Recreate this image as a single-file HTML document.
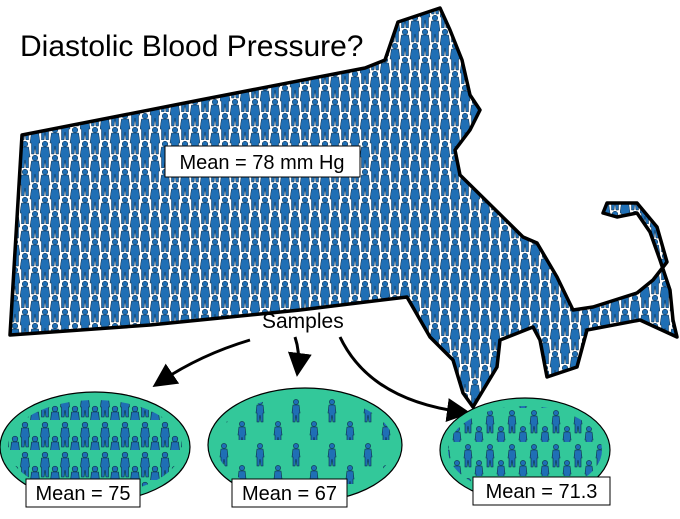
<!DOCTYPE html>
<html><head><meta charset="utf-8"><style>
body{margin:0;background:#fff;}
svg{display:block;font-family:"Liberation Sans",sans-serif;}
</style></head><body>
<svg width="680" height="519" viewBox="0 0 680 519">
<defs>
<pattern id="crowd" width="20" height="28" patternUnits="userSpaceOnUse">
<g fill="#1f6fb5" stroke="#0b2a45" stroke-width="0.5">
<circle cx="5" cy="4" r="2.8"/><path d="M1.5 7h7l1.5 10-1.5 0 0 11h-2.5l-1-8-1 8h-2.5l0-11-1.5 0z"/>
<circle cx="15" cy="18" r="2.8"/><path d="M11.5 21h7l1.5 10-1.5 0 0 11h-2.5l-1-8-1 8h-2.5l0-11-1.5 0z"/>
<circle cx="15" cy="-10" r="2.8"/><path d="M11.5 -7h7l1.5 10-1.5 0 0 11h-2.5l-1-8-1 8h-2.5l0-11-1.5 0z"/>
</g>
</pattern>
<pattern id="sparse" width="22" height="34" patternUnits="userSpaceOnUse">
<g fill="#1f6fb5" stroke="#0b2a45" stroke-width="0.6">
<circle cx="6" cy="5" r="2.6"/><path d="M3 8h6l1 8-1 0 0 9h-2l-1-7-1 7h-2l0-9-1 0z"/>
<circle cx="17" cy="21" r="2.6"/><path d="M14 24h6l1 8-1 0 0 9h-2l-1-7-1 7h-2l0-9-1 0z"/>
</g>
</pattern>
<pattern id="vsparse" width="36" height="44" patternUnits="userSpaceOnUse">
<g fill="#1f6fb5" stroke="#0b2a45" stroke-width="0.6">
<circle cx="8" cy="6" r="2.6"/><path d="M5 9h6l1 8-1 0 0 9h-2l-1-7-1 7h-2l0-9-1 0z"/>
<circle cx="26" cy="28" r="2.6"/><path d="M23 31h6l1 8-1 0 0 9h-2l-1-7-1 7h-2l0-9-1 0z"/>
</g>
</pattern>
<pattern id="medium" width="20" height="30" patternUnits="userSpaceOnUse">
<g fill="#1f6fb5" stroke="#0b2a45" stroke-width="0.6">
<circle cx="5" cy="5" r="2.8"/><path d="M1.5 8h7l1 9-1 0 0 10h-2.5l-1-7-1 7h-2.5l0-10-1 0z"/>
<circle cx="15" cy="19" r="2.8"/><path d="M11.5 22h7l1 9-1 0 0 10h-2.5l-1-7-1 7h-2.5l0-10-1 0z"/>
</g>
</pattern>
<marker id="ah" markerWidth="8" markerHeight="8" refX="5" refY="4" orient="auto"><path d="M0 0L8 4L0 8z" fill="#000"/></marker>
</defs>

<path d="M22 135 L200 100 L365 68 L385 60 L398 22 L440 8 L450 30 L462 60 L470 95 L480 110 L470 130 L455 150 L460 175 L523 237 L537 243 L557 277 L573 310 L593 307 L637 293 L653 280 L667 262 L657 227 L637 203 L607 203 L603 213 L617 217 L637 213 L650 232 L660 260 L670 290 L673 320 L677 337 L640 320 L587 330 L577 367 L547 377 L540 340 L533 327 L500 340 L497 367 L473 407 L463 393 L453 360 L430 337 L407 297 L300 310 L150 325 L10 335 Z" fill="url(#crowd)" stroke="#000" stroke-width="3.5" stroke-linejoin="round"/>

<text x="20" y="56" font-size="30">Diastolic Blood Pressure?</text>

<g>
<rect x="165" y="146" width="195" height="31" fill="#fff" stroke="#000" stroke-width="1"/>
<text x="262" y="169" font-size="20" text-anchor="middle">Mean = 78 mm Hg</text>
</g>

<text x="262" y="328" font-size="21">Samples</text>

<g fill="none" stroke="#000" stroke-width="3">
<path d="M250 340 Q200 355 160 382" marker-end="url(#ah)"/>
<path d="M295 337 Q300 352 298 368" marker-end="url(#ah)"/>
<path d="M340 337 Q370 400 462 412" marker-end="url(#ah)"/>
</g>

<g id="samples"></g>
</svg>
<script>
const sampleNames = ["sample-1","sample-2","sample-3"];
const sampleMeans = ["75","67","71.3"];
const ellipses = [[95,447,95,55,"url(#medium)"],[305,445,97,57,"url(#vsparse)"],[525,450,85,52,"url(#sparse)"]];
const boxes = [[26,479,114],[232,479,115],[473,477,137]];
const g = document.getElementById('samples');
const NS = "http://www.w3.org/2000/svg";
sampleMeans.forEach((m,i)=>{
  const grp = document.createElementNS(NS,'g');
  
  
  const [cx,cy,rx,ry,pat] = ellipses[i];
  const e = document.createElementNS(NS,'ellipse');
  e.setAttribute('cx',cx);e.setAttribute('cy',cy);e.setAttribute('rx',rx);e.setAttribute('ry',ry);
  e.setAttribute('fill','#33c89a');e.setAttribute('stroke','#000');e.setAttribute('stroke-width','1.2');
  
  
  grp.appendChild(e);
  const e2 = e.cloneNode();
  e2.setAttribute('fill',pat);e2.setAttribute('rx',rx-8);e2.setAttribute('ry',ry-8);e2.setAttribute('stroke','none');
  
  
  grp.appendChild(e2);
  const [bx,by,bw] = boxes[i];
  const r = document.createElementNS(NS,'rect');
  r.setAttribute('x',bx);r.setAttribute('y',by);r.setAttribute('width',bw);r.setAttribute('height',28);
  r.setAttribute('fill','#fff');r.setAttribute('stroke','#000');
  
  
  grp.appendChild(r);
  const t = document.createElementNS(NS,'text');
  t.setAttribute('x',bx+bw/2);t.setAttribute('y',by+21);t.setAttribute('font-size','20');t.setAttribute('text-anchor','middle');
  t.textContent = 'Mean = ' + m;
  
  
  grp.appendChild(t);
  g.appendChild(grp);
});
</script>
</body></html>
